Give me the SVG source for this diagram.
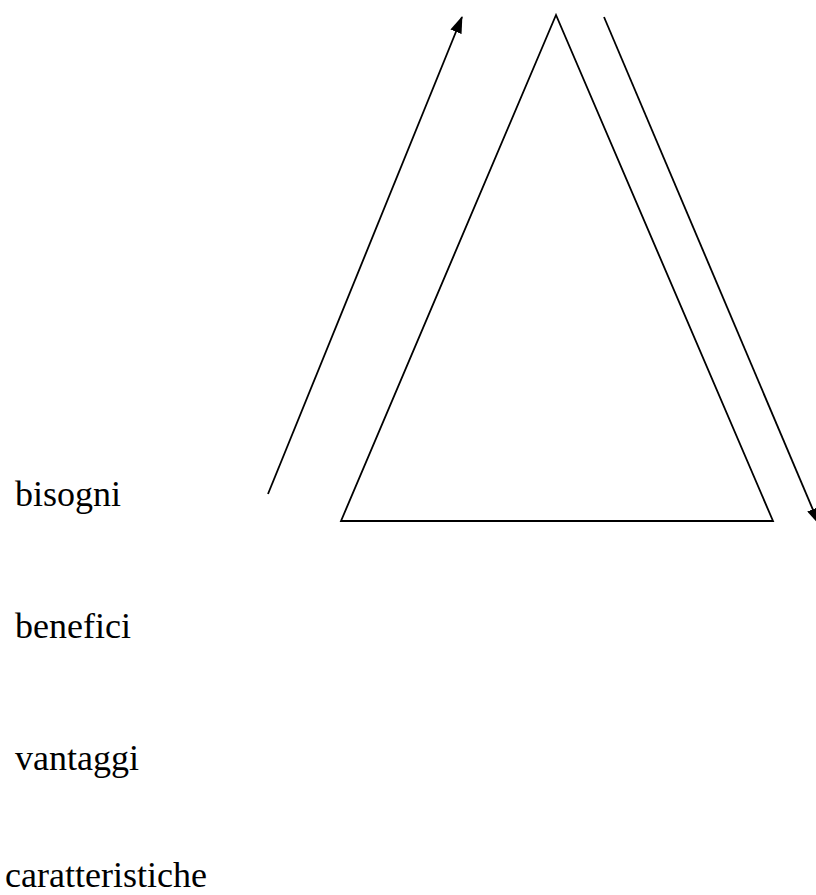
<svg xmlns="http://www.w3.org/2000/svg" width="816" height="895" viewBox="0 0 816 895">
<style>
.lbl{font-family:"Liberation Serif","Times New Roman",serif;font-size:36px;fill:#000}
.ln{stroke:#000;stroke-width:1.8;fill:none}
</style>
<defs>
<marker id="ah" markerWidth="17" markerHeight="12" refX="16" refY="6" orient="auto" markerUnits="userSpaceOnUse">
<path d="M0,0 L17,6 L0,12 Z" fill="#000"/>
</marker>
</defs>
<rect width="816" height="895" fill="#fff"/>
<g id="triangle"><path class="ln" d="M556,15 L341,521 L773,521 Z"/></g>
<g id="connectors">
<line class="ln" x1="268" y1="494" x2="462" y2="17" marker-end="url(#ah)"/>
<line class="ln" x1="604" y1="17" x2="819" y2="524" marker-end="url(#ah)"/>
</g>
<g id="bisogni"><text class="lbl" x="15" y="506">bisogni</text></g>
<g id="benefici"><text class="lbl" x="15" y="638">benefici</text></g>
<g id="vantaggi"><text class="lbl" x="15" y="770">vantaggi</text></g>
<g id="caratteristiche"><text class="lbl" x="5" y="887">caratteristiche</text></g>
</svg>
